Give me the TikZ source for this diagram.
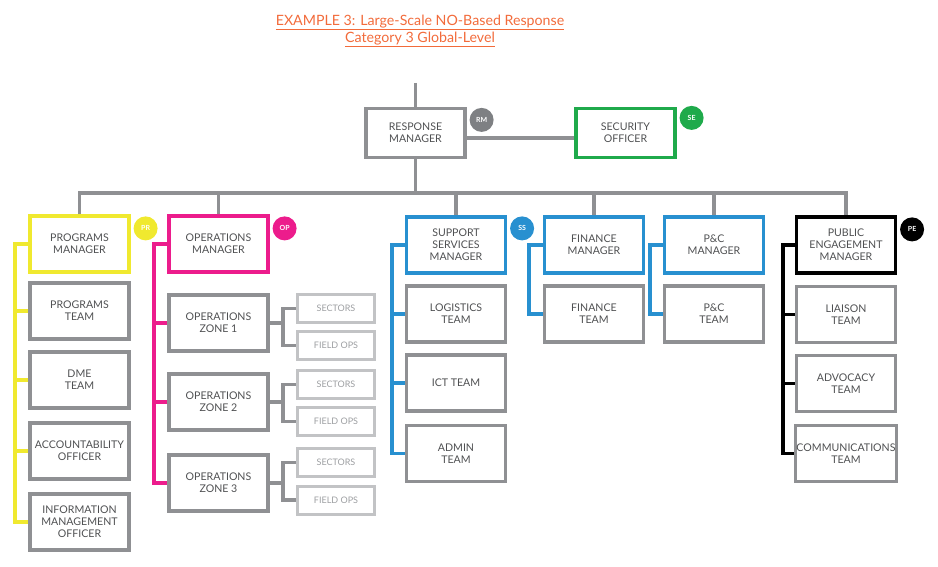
\documentclass[tikz,border=0pt]{standalone}
\usepackage{fontspec}
\setmainfont{Lato}
\usepackage{xcolor}
\definecolor{boxgray}{HTML}{8F9093}
\definecolor{txtgray}{HTML}{4F5052}
\definecolor{subgray}{HTML}{C2C3C5}
\definecolor{subtxt}{HTML}{9C9EA1}
\definecolor{rmgray}{HTML}{7E8083}
\definecolor{yel}{HTML}{F0E92F}
\definecolor{mag}{HTML}{EC1C8C}
\definecolor{blu}{HTML}{2890D0}
\definecolor{grn}{HTML}{1FAA4B}
\definecolor{org}{HTML}{F26B3B}

\begin{document}
\begin{tikzpicture}[x=1pt, y=-1pt,
  box/.style={draw=#1, line width=3.2pt, minimum width=99pt, minimum height=56pt,
    inner sep=1pt, align=center, text=txtgray, font=\fontsize{10.6}{12}\selectfont},
  box/.default=boxgray,
  sub/.style={draw=subgray, line width=3pt, minimum width=77pt, minimum height=28pt,
    inner sep=1pt, text=subtxt, font=\fontsize{9}{10}\selectfont},
  badge/.style={circle, fill=#1, minimum size=24pt, inner sep=0pt, text=white,
    font=\fontsize{7}{8}\selectfont\bfseries},
  link/.style={draw=#1, line width=3.2pt},
  link/.default=boxgray]
\useasboundingbox (0,0) rectangle (938,567);

\node[text=org, align=center, font=\fontsize{14.2}{17}\selectfont] at (420,31) (title)
  {\underline{EXAMPLE 3: Large-Scale NO-Based Response}\\\underline{Category 3 Global-Level}};

\node[box, minimum height=49pt] at (415.5,133) (rm) {RESPONSE\\MANAGER};
\node[box=grn, minimum height=49pt] at (625.5,133) (so) {SECURITY\\OFFICER};

\node[box=yel] at (79.5,244) (pm) {PROGRAMS\\MANAGER};
\node[box=mag] at (218.5,244) (om) {OPERATIONS\\MANAGER};
\node[box=blu] at (456,245) (sm) {SUPPORT\\SERVICES\\MANAGER};
\node[box=blu] at (594,245) (fm) {FINANCE\\MANAGER};
\node[box=blu] at (714,245) (cm) {P\&C\\MANAGER};
\node[box=black] at (846,245) (pe) {PUBLIC\\ENGAGEMENT\\MANAGER};

\node[badge=rmgray] at ([xshift=15pt,yshift=-13pt]rm.north east) (rmb) {RM};
\node[badge=grn] at ([xshift=15pt,yshift=-11pt]so.north east) (seb) {SE};
\node[badge=yel] at ([xshift=15pt,yshift=-14pt]pm.north east) (prb) {PR};
\node[badge=mag] at ([xshift=15pt,yshift=-14pt]om.north east) (opb) {OP};
\node[badge=blu] at ([xshift=15pt,yshift=-13pt]sm.north east) (ssb) {SS};
\node[badge=black] at ([xshift=15pt,yshift=-14pt]pe.north east) (peb) {PE};

\node[box] at (79.5,311) (pt) {PROGRAMS\\TEAM};
\node[box] at (79.5,380) (dme) {DME\\TEAM};
\node[box] at (79.5,451) (ao) {ACCOUNTABILITY\\OFFICER};
\node[box] at (79.5,522) (imo) {INFORMATION\\MANAGEMENT\\OFFICER};

\node[box] at (218.5,323) (z1) {OPERATIONS\\ZONE 1};
\node[box] at (218.5,402) (z2) {OPERATIONS\\ZONE 2};
\node[box] at (218.5,483) (z3) {OPERATIONS\\ZONE 3};

\node[sub] at (336,308.5) (s1) {SECTORS};
\node[sub] at (336,345.5) (f1) {FIELD OPS};
\node[sub] at (336,384.5) (s2) {SECTORS};
\node[sub] at (336,421.5) (f2) {FIELD OPS};
\node[sub] at (336,462.5) (s3) {SECTORS};
\node[sub] at (336,500) (f3) {FIELD OPS};

\node[box] at (456,314) (lt) {LOGISTICS\\TEAM};
\node[box] at (456,383) (ict) {ICT TEAM};
\node[box] at (456,453.5) (adm) {ADMIN\\TEAM};
\node[box] at (594,314) (ft) {FINANCE\\TEAM};
\node[box] at (714,314) (ct) {P\&C\\TEAM};

\node[box] at (846,314.5) (lia) {LIAISON\\TEAM};
\node[box] at (846,383.5) (adv) {ADVOCACY\\TEAM};
\node[box] at (846,453.5) (com) {COMMUNICATIONS\\TEAM};

\coordinate (top) at (415.5,83);
\coordinate (bus) at (415.5,193);
\coordinate (ylin) at (15,0);
\coordinate (mlin) at (154,0);
\coordinate (olin) at (283,0);
\coordinate (slin) at (392,0);
\coordinate (flin) at (529,0);
\coordinate (clin) at (650,0);
\coordinate (plin) at (783,0);

\draw[link] (top) -- (rm.north);
\draw[link] ([yshift=-5pt]rm.east) -- ([yshift=-5pt]so.west);
\draw[link] (rm.south) -- (bus);
\draw[link] (pm.north) |- (bus) -| (pe.north);
\foreach \n in {om,sm,fm,cm}
  \draw[link] (\n.north) -- (\n.north |- bus);

\draw[link=yel] (pm.west) -| (ylin |- imo.west) -- (imo.west);
\foreach \n in {pt,dme,ao}
  \draw[link=yel] (\n.west) -- (\n.west -| ylin);

\draw[link=mag] (om.west) -| (mlin |- z3.west) -- (z3.west);
\foreach \n in {z1,z2}
  \draw[link=mag] (\n.west) -- (\n.west -| mlin);

\foreach \z/\s/\f in {z1/s1/f1, z2/s2/f2, z3/s3/f3} {
  \draw[link] (\z.east) -- (\z.east -| olin);
  \draw[link] (\s.west) -| (olin |- \z.east) |- (\f.west);
}

\draw[link=blu] (sm.west) -| (slin |- adm.west) -- (adm.west);
\foreach \n in {lt,ict}
  \draw[link=blu] (\n.west) -- (\n.west -| slin);
\draw[link=blu] (fm.west) -| (flin |- ft.west) -- (ft.west);
\draw[link=blu] (cm.west) -| (clin |- ct.west) -- (ct.west);

\draw[link=black] (pe.west) -| (plin |- com.west) -- (com.west);
\foreach \n in {lia,adv}
  \draw[link=black] (\n.west) -- (\n.west -| plin);

\end{tikzpicture}
\end{document}
